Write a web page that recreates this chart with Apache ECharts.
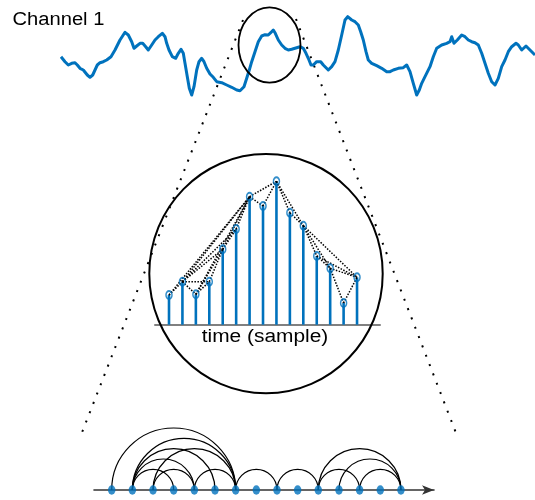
<!DOCTYPE html>
<html>
<head>
<meta charset="utf-8">
<script src="https://cdn.jsdelivr.net/npm/echarts@6/dist/echarts.min.js"></script>
<style>
  html, body { margin: 0; padding: 0; background: #fff; }
  #chart { width: 535px; height: 500px; }
</style>
</head>
<body>
<div id="chart"></div>
<script>
// EEG trace of channel 1: [time (samples), amplitude]
const channel1 = [
  [0,3.3],[4,-1.7],[7.3,-5],[10.7,-3.3],[14,-2.7],[16.3,-5],[19,-8.3],[22.3,-10],[26.3,-15],[29,-17.3],
  [31.7,-15],[34,-10],[36.3,-5],[39,-2.7],[42.3,-1.7],[45.7,0],[50,3.3],[54,10],[59,20],[64,27.7],
  [67.3,25],[70.7,18.3],[73,11.7],[75.7,14],[79,16.7],[81.7,16.7],[84.7,13.3],[87.3,10],[90.7,15],[94,20],
  [97.3,23.3],[101.3,26.7],[104,23.3],[105.7,16.7],[108,10],[111.3,3.3],[114.7,1.7],[117.3,6.7],[120,10.7],[122.3,6.7],
  [124,-3.3],[126.3,-16.7],[128.3,-28.3],[130.7,-35],[133,-26.7],[135.7,-10],[138,-1.7],[140.7,1.7],[143,-1.7],[145.7,-8.3],
  [149,-14],[152.3,-17.3],[155.7,-21.7],[160.7,-22.7],[165.7,-25],[170.7,-27.3],[175.7,-30],[179,-30.7],[183,-26.7],[185.7,-18.3],
  [188.3,-10],[190.7,-1.7],[194,8.3],[197.3,18.3],[200.7,24],[204,25.3],[207.3,25],[209.7,27.3],[212.3,30],[214.3,26.7],
  [217.3,20],[220.7,15],[224,11.7],[227.3,10],[230.7,10.7],[234,11.7],[239,13.3],[242.3,11.7],[245,6.7],[247.3,1.7],
  [250,-5],[252.3,-5],[255.7,-1.7],[259.7,-1.7],[262.3,-5],[267.3,-10],[270.7,-6.7],[274,-1.7],[277.3,10],[280.7,25],
  [284,40],[286.7,43.3],[290.7,40],[294,38.3],[297.3,35],[299.7,28.3],[302.3,20],[305,8.3],[307.3,0],[310.7,-3.3],
  [315.7,-5.7],[320.7,-8.3],[325.7,-11.7],[329,-11.7],[332.3,-10],[337.3,-8.3],[342.3,-7.7],[345.7,-5],[349,-11.7],[352.3,-23.3],
  [355.7,-35],[358.3,-30],[360.7,-23.3],[364,-16.7],[369,-6.7],[372.3,3.3],[375.7,11.7],[380.7,15],[385.7,16.7],[389,18.3],
  [390.7,23.3],[393,16.7],[396.3,20],[400.7,25],[404,23.3],[407.3,20],[410.7,18.3],[414,17.3],[417.3,15],[420.7,6.7],
  [424,-3.3],[427.3,-13.3],[430.7,-21.7],[434,-25],[437.3,-18.3],[440.7,-6.7],[444,0],[447.3,8.3],[450.7,13.3],[455,16.7],
  [457.3,15],[460.7,10],[465,14],[471,8],[474,5]
];

// Zoomed-in segment: one value per sample
const stemValues = [29.7, 43, 30.4, 43, 75.4, 95.7, 128, 118.7, 143.4, 112, 99, 68.7, 56.4, 21.7, 47.4];

// Natural visibility graph edges between samples (pairs of sample indices)
const visEdges = [
  [0,1],[1,2],[2,3],[3,4],[4,5],[5,6],[6,7],[7,8],[8,9],[9,10],[10,11],[11,12],[12,13],[13,14],
  [0,6],[1,3],[1,4],[1,5],[1,6],[2,4],[2,6],[4,6],[6,8],[8,10],[10,12],[10,14],[11,14],[12,14]
];

const BLUE = '#0072BD';
const FONT = '"Liberation Sans", Arial, Helvetica, sans-serif';

const sampleIdx = stemValues.map((_, i) => i);
const stemData = stemValues.map((v, i) => [i, v]);
const nodeData = sampleIdx.map(i => [i, 0]);
// adjacent samples are joined by the time axis itself, so only longer links get an arc
const arcEdges = visEdges.filter(e => e[1] - e[0] > 1);

const chart = echarts.init(document.getElementById('chart'), null, { renderer: 'canvas' });

const hiddenAxis = { show: false };

chart.setOption({
  animation: false,
  backgroundColor: '#fff',
  grid: [
    { left: 0, top: 0, width: 535, height: 110 },
    { left: 155, top: 174.7, width: 225, height: 150 },
    { left: 94, top: 410, width: 340, height: 80 }
  ],
  xAxis: [
    { gridIndex: 0, type: 'value', min: -61, max: 474, ...hiddenAxis },
    {
      gridIndex: 1, type: 'value', min: -1.0425, max: 15.71,
      axisLine: { show: true, lineStyle: { color: '#808080', width: 2 } },
      axisTick: { show: false }, axisLabel: { show: false }, splitLine: { show: false }
    },
    {
      gridIndex: 2, type: 'value', min: -0.857, max: 15.6,
      axisLine: {
        show: true, symbol: ['none', 'arrow'], symbolSize: [7, 12],
        lineStyle: { color: '#333', width: 1.6 }
      },
      axisTick: { show: false }, axisLabel: { show: false }, splitLine: { show: false }
    }
  ],
  yAxis: [
    { gridIndex: 0, type: 'value', min: -50, max: 60, ...hiddenAxis },
    { gridIndex: 1, type: 'value', min: 0, max: 150, ...hiddenAxis },
    { gridIndex: 2, type: 'value', min: 0, max: 80, ...hiddenAxis }
  ],
  graphic: [
    {
      type: 'text', x: 12.5, y: 20, z: 10,
      style: { text: 'Channel 1', font: '18px ' + FONT, fill: '#000', textAlign: 'left', textVerticalAlign: 'middle' },
      scaleX: 1.12
    },
    {
      type: 'text', x: 265, y: 337.5, z: 10,
      style: { text: 'time (sample)', font: '18px ' + FONT, fill: '#000', textAlign: 'center', textVerticalAlign: 'middle' },
      scaleX: 1.16
    },
    {
      type: 'ellipse', z: 10, silent: true,
      shape: { cx: 269.5, cy: 45, rx: 31, ry: 37.7 },
      style: { fill: null, stroke: '#000', lineWidth: 1.8 }
    },
    {
      type: 'ellipse', z: 1, silent: true,
      shape: { cx: 266, cy: 273.7, rx: 116.7, ry: 119.6 },
      style: { fill: null, stroke: '#000', lineWidth: 2 }
    },
    {
      type: 'line', z: 1, silent: true,
      shape: { x1: 243, y1: 20, x2: 81, y2: 435 },
      style: { stroke: '#000', lineWidth: 2, lineDash: [2, 8] }
    },
    {
      type: 'line', z: 1, silent: true,
      shape: { x1: 296, y1: 19, x2: 456, y2: 433 },
      style: { stroke: '#000', lineWidth: 2, lineDash: [2, 8] }
    }
  ],
  series: [
    {
      type: 'line', xAxisIndex: 0, yAxisIndex: 0, data: channel1,
      showSymbol: false, smooth: false, z: 3,
      lineStyle: { color: BLUE, width: 3, join: 'round' }
    },
    {
      type: 'bar', xAxisIndex: 1, yAxisIndex: 1, data: stemData,
      barWidth: 2.6, itemStyle: { color: BLUE }, z: 3
    },
    {
      type: 'custom', xAxisIndex: 1, yAxisIndex: 1, data: visEdges, z: 4,
      renderItem: function (params, api) {
        const a = api.value(0), b = api.value(1);
        const p = api.coord([a, stemValues[a]]);
        const q = api.coord([b, stemValues[b]]);
        return {
          type: 'line',
          shape: { x1: p[0], y1: p[1], x2: q[0], y2: q[1] },
          style: { stroke: '#000', lineWidth: 1.5, lineDash: [1.5, 1.5], fill: null }
        };
      }
    },
    {
      type: 'scatter', xAxisIndex: 1, yAxisIndex: 1, data: stemData, z: 5,
      symbol: 'circle', symbolSize: [6, 8],
      itemStyle: { color: 'rgba(0,0,0,0)', borderColor: BLUE, borderWidth: 1.7 }
    },
    {
      type: 'custom', xAxisIndex: 2, yAxisIndex: 2, data: arcEdges, z: 3,
      renderItem: function (params, api) {
        const p = api.coord([api.value(0), 0]);
        const q = api.coord([api.value(1), 0]);
        return {
          type: 'arc',
          shape: { cx: (p[0] + q[0]) / 2, cy: p[1], r: (q[0] - p[0]) / 2, startAngle: Math.PI, endAngle: 2 * Math.PI, clockwise: true },
          style: { stroke: '#000', lineWidth: 1.2, fill: 'none' }
        };
      }
    },
    {
      type: 'scatter', xAxisIndex: 2, yAxisIndex: 2, data: nodeData, z: 6,
      symbol: 'circle', symbolSize: [7.5, 9.5],
      itemStyle: { color: BLUE }
    }
  ]
});
</script>
</body>
</html>
